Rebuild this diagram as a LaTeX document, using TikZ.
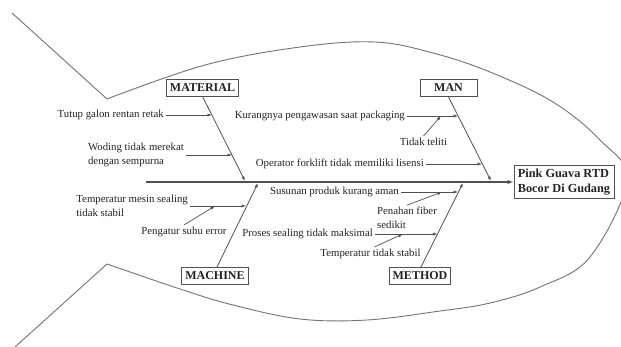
\documentclass[tikz,border=0pt]{standalone}
\usepackage{fontspec}
\setmainfont{Liberation Serif}
\usetikzlibrary{arrows.meta}
\definecolor{ln}{RGB}{80,80,80}
\definecolor{ol}{RGB}{115,115,115}
\definecolor{tx}{RGB}{35,35,35}
\tikzset{
  cause/.style={inner sep=2pt, text=tx, font=\fontsize{10.8}{13.5}\selectfont, align=left},
  catbox/.style={draw=ln, line width=0.9pt, text=tx, font=\fontsize{12}{14}\selectfont\bfseries, minimum height=17pt, inner xsep=3.5pt, inner ysep=2pt},
  headbox/.style={draw=ln, line width=0.9pt, text=tx, font=\fontsize{12.3}{15}\selectfont\bfseries, align=left, minimum width=100pt, minimum height=33pt, inner sep=2pt},
  tip/.tip={Latex[length=4.5pt,width=3.2pt]},
  arr/.style={draw=ln, line width=0.7pt, -tip},
  bone/.style={draw=ln, line width=0.8pt, -tip},
  spine/.style={draw=ln, line width=1.8pt, -{Latex[length=6pt,width=4.5pt]}},
  outline/.style={draw=ol, line width=0.9pt}
}
\begin{document}
\begin{tikzpicture}[x=1pt,y=-1pt]
\useasboundingbox (0,0) rectangle (621,347);
\clip (0,0) rectangle (621,347);
\fill[white] (0,0) rectangle (621,347);
% fish outline
\draw[outline] (12,13) -- (107,99);
\draw[outline] plot[smooth, tension=0.6] coordinates {(107,99) (205,65) (300,47) (375,42) (433,53) (490,72) (553,102) (600,140) (627,180) (590,257) (540,287) (490,303) (440,311) (367,320) (300,319) (233,305) (183,290) (107,264)};
\draw[outline] (107,264) -- (15,347);
% head and spine
\node[headbox] (head) at (564,182) {Pink Guava RTD\\Bocor Di Gudang};
\coordinate (sp0) at (146,182);
\draw[spine] (sp0) -- (head.west);
% category boxes
\node[catbox] (mat) at (202.5,87.5) {MATERIAL};
\node[catbox, minimum width=57pt] (man) at (448.5,88) {MAN};
\node[catbox] (mac) at (215,275.5) {MACHINE};
\node[catbox] (met) at (420,275.5) {METHOD};
% bone ends on spine
\coordinate (matE) at (245,181);
\coordinate (manE) at (491,181);
\coordinate (macE) at (258,183);
\coordinate (metE) at (463,183);
\coordinate (macS) at (217,267);
\coordinate (metS) at (421,267);
\draw[bone] (mat.south) -- (matE);
\draw[bone] (man.south) -- (manE);
\draw[bone] (macS) -- (macE);
\draw[bone] (metS) -- (metE);
% points on bones
\coordinate (p1) at (212,115);
\coordinate (p2) at (232,155);
\coordinate (p3) at (246,206);
\coordinate (p5) at (458,116);
\coordinate (p7) at (482,164);
\coordinate (p8) at (458,192);
\coordinate (p10) at (437.5,234);
% points on sub arrows
\coordinate (q4) at (215,206);
\coordinate (q6) at (441,116);
\coordinate (q9) at (442,192);
\coordinate (q11) at (403,234);
% causes
\node[cause, anchor=east] (c1) at (166,115) {Tutup galon rentan retak};
\node[cause, anchor=east] (c2) at (186,155) {Woding tidak merekat\\dengan sempurna};
\node[cause, anchor=east] (c3) at (190,206) {Temperatur mesin sealing\\tidak stabil};
\node[cause] (c4) at (184,232) {Pengatur suhu error};
\node[cause, anchor=east] (c5) at (407,116) {Kurangnya pengawasan saat packaging};
\node[cause] (c6) at (423.5,142) {Tidak teliti};
\node[cause, anchor=east] (c7) at (426,164) {Operator forklift tidak memiliki lisensi};
\node[cause, anchor=east] (c8) at (401,192) {Susunan produk kurang aman};
\node[cause] (c9) at (407,218) {Penahan fiber\\sedikit};
\node[cause, anchor=east] (c10) at (375,234) {Proses sealing tidak maksimal};
\node[cause] (c11) at (370.5,254) {Temperatur tidak stabil};
\draw[arr] (c1.east) -- (p1);
\draw[arr] (c2.east) -- (p2);
\draw[arr] (c3.east) -- (p3);
\draw[arr] (c4.north) -- (q4);
\draw[arr] (c5.east) -- (p5);
\draw[arr] (c6.north) -- (q6);
\draw[arr] (c7.east) -- (p7);
\draw[arr] (c8.east) -- (p8);
\draw[arr] (c9.north) -- (q9);
\draw[arr] (c10.east) -- (p10);
\draw[arr] ([xshift=4pt]c11.north) -- (q11);
\end{tikzpicture}
\end{document}
